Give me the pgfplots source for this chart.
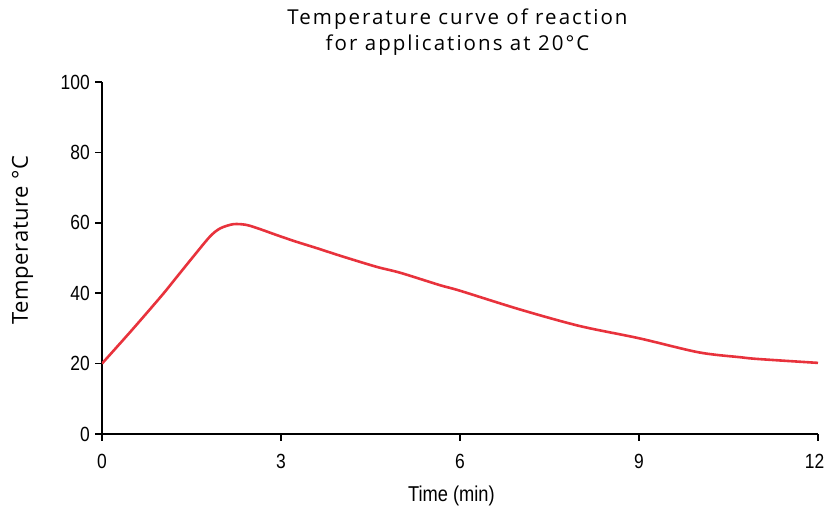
\documentclass[border=0pt]{standalone}
\usepackage{fontspec}
\setmainfont{Liberation Sans}
\newfontfamily\narrowfont{Liberation Sans}[FakeStretch=0.85]
\newfontfamily\titlefont{Open Sans}[LetterSpace=10]
\newfontfamily\labelfont{Open Sans}[LetterSpace=3]
\usepackage{pgfplots}
\pgfplotsset{compat=1.18}
\definecolor{curvered}{HTML}{E8323C}
\begin{document}
\begin{tikzpicture}
\begin{axis}[name=ax,
  width=716pt, height=352pt, scale only axis,
  xmin=0, xmax=12, ymin=0, ymax=100,
  xtick={0,3,6,9,12}, ytick={0,20,40,60,80,100},
  xticklabels={0,3,6,9,{\hspace*{-7pt}12}},
  axis lines=left, axis line style={line width=1.6pt, -},
  tick style={line width=1.6pt, black}, major tick length=7pt, tick align=outside,
  ticklabel style={font=\narrowfont\fontsize{20.5}{20.5}\selectfont},
  xticklabel style={anchor=base, yshift=-28pt},
  yticklabel style={inner xsep=0pt, xshift=-5pt},
  /pgf/number format/assume math mode=true,
  xlabel={Time (min)},
  xlabel style={font=\narrowfont\fontsize{21.5}{21.5}\selectfont, at={(axis description cs:0.488,0)}, anchor=base, yshift=-68pt},
  ylabel={Temperature °C},
  ylabel style={font=\labelfont\fontsize{22}{22}\selectfont, at={(axis description cs:-0.1034,0.551)}, anchor=base},
  title={Temperature curve of reaction\\for applications at 20°C},
  title style={font=\titlefont\fontsize{20.5}{26}\selectfont, align=center, at={(axis description cs:0.4965,1)}, anchor=base, yshift=25pt},
]
\addplot[curvered, line width=2.6pt, smooth, tension=0.5] coordinates {
(0,20) (0.5,29.5) (1,39.3) (1.22,43.9) (1.53,50.4) (1.81,56.1) (1.98,58.4) (2.2,59.6)
(2.42,59.4) (2.65,58.2) (2.93,56.5) (3.26,54.6) (3.6,52.8) (4,50.6) (4.6,47.5) (5,45.8)
(5.66,42.3) (6,40.7) (7,35.4) (8,30.7) (9,27.2) (10,23.2) (10.7,21.8) (11,21.3) (12,20.2)
};
\end{axis}
\path (ax.south west) ++(-102pt,-77pt) coordinate (a);
\path (ax.north east) ++(7pt,82pt) coordinate (b);
\pgfresetboundingbox
\useasboundingbox (a) rectangle (b);
\end{tikzpicture}
\end{document}
